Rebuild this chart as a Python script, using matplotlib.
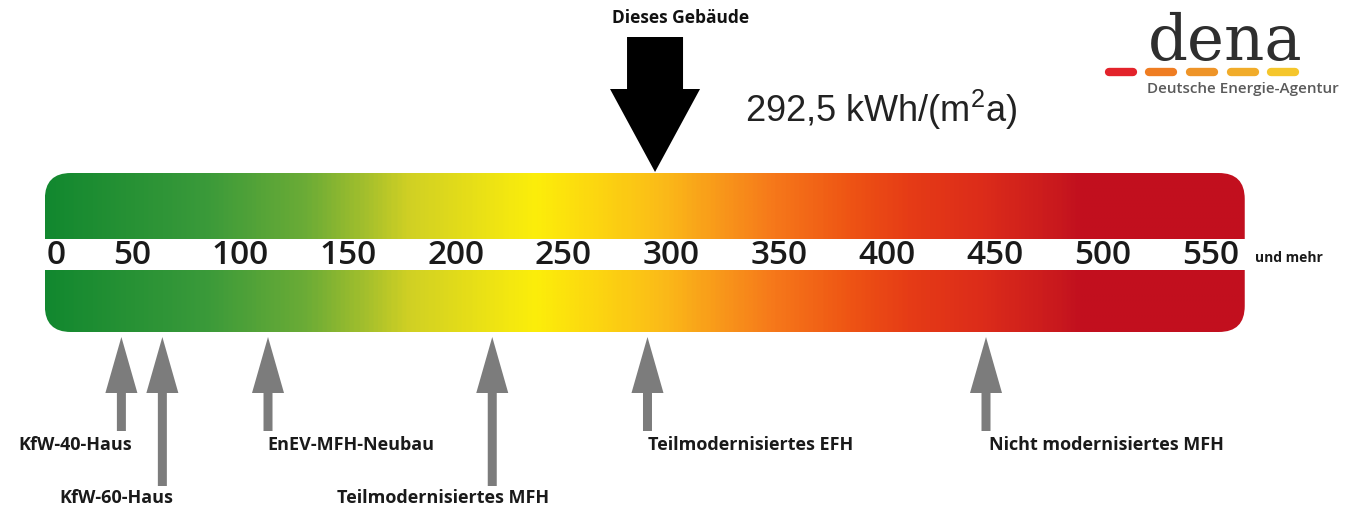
import numpy as np
import matplotlib.pyplot as plt
from matplotlib.colors import LinearSegmentedColormap
from matplotlib.patches import FancyBboxPatch, Rectangle, Polygon
from matplotlib.transforms import offset_copy

plt.rcParams['font.family'] = ['Open Sans', 'DejaVu Sans']
plt.rcParams['mathtext.fontset'] = 'custom'
plt.rcParams['mathtext.rm'] = 'Liberation Sans'

# scale in kWh/(m2a)
ticks = [0, 50, 100, 150, 200, 250, 300, 350, 400, 450, 500, 550]
tick_labels = [str(t) for t in ticks]
scale_end = 566          # bar runs a bit past 550 ("und mehr")
scale_start = 9.5

building_value = 292.5
building_text = "292,5 kWh/(m$^2$a)"

ref_names = ["KfW-40-Haus", "KfW-60-Haus", "EnEV-MFH-Neubau",
             "Teilmodernisiertes MFH", "Teilmodernisiertes EFH",
             "Nicht modernisiertes MFH"]
ref_values = [45, 64, 113, 217, 289, 446]

# layout of the reference arrows (long arrow?, label x shift in px)
ref_long = [False, True, False, True, False, False]
ref_dx = [-46, -46, 83, -49, 103, 120]

grad_pos = [0.0, 0.132, 0.217, 0.268, 0.302, 0.353, 0.408, 0.472, 0.513,
            0.56, 0.608, 0.672, 0.72, 0.783, 0.848, 0.863, 1.0]
grad_col = ['#12882f', '#3a9a3a', '#6cac36', '#a6c02c', '#d0d024', '#e6de18',
            '#fcee0a', '#fcd012', '#fbbc18', '#f99a1a', '#f6781a', '#ee5414',
            '#e63c16', '#dc2c1a', '#c8181e', '#c2101e', '#c20f1f']
cmap = LinearSegmentedColormap.from_list('dena', list(zip(grad_pos, grad_col)))

fig = plt.figure(figsize=(13.56, 5.09), dpi=100)
ax = fig.add_axes([0, 0, 1, 1])
ax.set_xlim(-11.3, 617.6)
ax.set_ylim(509, 0)
ax.axis('off')

ppu = ax.transData.transform((1, 0))[0] - ax.transData.transform((0, 0))[0]

def px(n):
    return n / ppu

def xpix(p):
    return ax.transData.inverted().transform((p, 0))[0]

# gradient bar with rounded corners
bar_top, bar_bot = 173, 332
box = FancyBboxPatch((scale_start, bar_top), scale_end - scale_start, bar_bot - bar_top,
                     boxstyle=f"round,pad=0,rounding_size={px(26)}",
                     mutation_aspect=ppu, facecolor='none', edgecolor='none')
ax.add_patch(box)
grad = np.linspace(0, 1, 800).reshape(1, -1)
im = ax.imshow(grad, cmap=cmap, aspect='auto', interpolation='bilinear',
               extent=[scale_start, scale_end, bar_bot, bar_top], zorder=1)
im.set_clip_path(box)

# white band with the numbers
ax.add_patch(Rectangle((scale_start - 1, 239), scale_end - scale_start + 2, 31,
                       facecolor='white', edgecolor='none', zorder=2))
for t, lab in zip(ticks, tick_labels):
    if t == 0:
        ax.text(scale_start + px(2), 256, lab, ha='left', va='center', fontsize=24,
                fontweight='semibold', color='#1a1a1a', zorder=3)
    else:
        ax.text(t, 256, lab, ha='center', va='center', fontsize=24,
                fontweight='semibold', color='#1a1a1a', zorder=3)
ax.text(scale_end + px(10), 258, "und mehr", ha='left', va='center', fontsize=10,
        fontweight='bold', color='#1a1a1a')

# black arrow for this building
v = building_value
ax.add_patch(Polygon([(v - px(28), 37), (v + px(28), 37), (v + px(28), 89),
                      (v + px(45), 89), (v, 172), (v - px(45), 89), (v - px(28), 89)],
                     closed=True, facecolor='black', edgecolor='none', zorder=4))
ax.text(v + px(-43), 18, "Dieses Gebäude", ha='left', va='center', fontsize=12.5,
        fontweight='bold', color='#111111')
ax.text(v + px(90), 110, building_text, ha='left', va='center', fontsize=26,
        family='Liberation Sans', color='#222222')

# grey reference arrows
for name, val, long_, dx in zip(ref_names, ref_values, ref_long, ref_dx):
    end = 486 if long_ else 431
    ax.add_patch(Polygon([(val, 337), (val + px(16), 393), (val + px(4.5), 393),
                          (val + px(4.5), end), (val - px(4.5), end),
                          (val - px(4.5), 393), (val - px(16), 393)],
                         closed=True, facecolor='#7c7c7c', edgecolor='none'))
    ty = 498 if long_ else 445
    tr = offset_copy(ax.transData, fig=fig, x=dx / 100, y=0, units='inches')
    ax.text(val, ty, name, transform=tr, ha='center', va='center', fontsize=13,
            fontweight='bold', color='#1a1a1a')

# dena logo
ax.text(xpix(1225), 60, "dena", ha='center', va='baseline', fontsize=45,
        family='DejaVu Serif', color='#2e2e2e')
dash_cols = ['#e3232b', '#ef7d22', '#ee9428', '#f1ac2a', '#f5c62c']
for i, c in enumerate(dash_cols):
    ax.plot([xpix(1109 + i * 40.5), xpix(1133 + i * 40.5)], [72, 72], color=c,
            lw=6, solid_capstyle='round')
ax.text(xpix(1147), 89, "Deutsche Energie-Agentur", ha='left', va='center',
        fontsize=11, fontweight='semibold', color='#5a5a5a')

fig.savefig('out.png', dpi=100)
